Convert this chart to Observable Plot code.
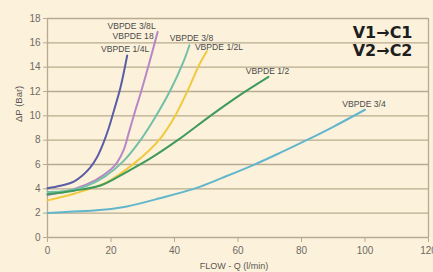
<!DOCTYPE html>
<html>
<head>
<meta charset="utf-8">
<script src="https://cdn.jsdelivr.net/npm/d3@7"></script>
<script src="https://cdn.jsdelivr.net/npm/@observablehq/plot@0.6"></script>
<style>
  html, body { margin: 0; padding: 0; background: #fcf2dc; }
  #chart { width: 433px; height: 272px; overflow: hidden; }
</style>
</head>
<body>
<div id="chart"></div>
<script>
// ---- data ----
const seriesNames = ["VBPDE 1/4L", "VBPDE 18", "VBPDE 3/8", "VBPDE 1/2L", "VBPDE 1/2", "VBPDE 3/4"];
const seriesColors = ["#5a5ea6", "#b888c6", "#72c0a6", "#f1c93e", "#3f9a5c", "#62b6cc"];

const flow14L = [0, 4, 8.3, 11, 13.5, 15.5, 17.5, 19.3, 21, 23, 25.1];
const dp14L   = [4.05, 4.25, 4.6, 5.1, 5.76, 6.55, 7.7, 9.0, 10.5, 12.35, 14.96];

const flow18 = [0, 8, 15, 20, 22, 24, 25.6, 27.5, 29.5, 32, 34.7];
const dp18   = [3.5, 3.95, 4.7, 5.6, 6.2, 7.2, 8.6, 10.3, 12.0, 14.3, 16.9];

const flow38 = [0, 6, 12, 18, 24, 29, 33.5, 38.7, 42.9, 44.7];
const dp38   = [3.75, 3.82, 4.2, 5.0, 6.3, 7.9, 9.7, 12.1, 14.5, 15.8];

const flow12L = [0, 8.3, 18.8, 27.1, 32, 36, 40, 44, 48, 50.2];
const dp12L   = [3.05, 3.6, 4.55, 6.05, 7.15, 8.3, 9.9, 12.0, 14.3, 15.3];

const flow12 = [0, 8.3, 16.7, 25, 32.4, 41, 51.3, 60, 69.6];
const dp12   = [3.55, 3.85, 4.27, 5.4, 6.5, 8.0, 10.0, 11.6, 13.2];

const flow34 = [0, 10, 20, 25, 35, 47, 55, 64.8, 73.2, 81.6, 90, 100];
const dp34   = [2.02, 2.15, 2.35, 2.55, 3.2, 4.08, 4.9, 5.95, 6.95, 8.0, 9.1, 10.5];

const xTicks = [0, 20, 40, 60, 80, 100, 120];
const yTicks = [0, 2, 4, 6, 8, 10, 12, 14, 16, 18];
const extraLabel = "VBPDE 3/8L";
const xTitle = "FLOW - Q (l/min)";
const yTitle = "ΔP (Bar)";
const legendLines = ["V1→C1", "V2→C2"];

// ---- build tables ----
const flows = [flow14L, flow18, flow38, flow12L, flow12, flow34];
const dps = [dp14L, dp18, dp38, dp12L, dp12, dp34];
const rows = [];
seriesNames.forEach((name, i) => {
  flows[i].forEach((f, j) => rows.push({series: name, flow: f, dp: dps[i][j]}));
});
const ends = seriesNames.map((name, i) => ({
  series: name, flow: flows[i][flows[i].length - 1], dp: dps[i][dps[i].length - 1]
}));
// label placement offsets (pixels) relative to each curve's end
const labelStyle = {
  "VBPDE 1/4L": {dx: -2, dy: -6, anchor: "middle"},
  "VBPDE 18":   {dx: -4, dy: 4,  anchor: "end"},
  "VBPDE 3/8":  {dx: 2,  dy: -7, anchor: "middle"},
  "VBPDE 1/2L": {dx: -12, dy: -4, anchor: "start"},
  "VBPDE 1/2":  {dx: -1, dy: -6, anchor: "middle"},
  "VBPDE 3/4":  {dx: -1, dy: -6, anchor: "middle"}
};
const gridColor = "#b7aa8e";
const textColor = "#4a4a4a";

const labelMarks = ends.map(e => {
  const s = labelStyle[e.series];
  return Plot.text([e], {x: "flow", y: "dp", text: "series", dx: s.dx, dy: s.dy,
    textAnchor: s.anchor, fill: textColor, fontSize: 8.6, fontFamily: "Liberation Sans"});
});
const e18 = ends[1];

const chart = Plot.plot({
  width: 433, height: 272,
  marginLeft: 47, marginRight: 5, marginTop: 18, marginBottom: 35,
  style: {background: "transparent", fontFamily: "Liberation Sans", fontSize: "10px", color: "#6e6a62", overflow: "visible"},
  x: {domain: [0, 120], label: null},
  y: {domain: [0, 18], label: null},
  color: {domain: seriesNames, range: seriesColors},
  marks: [
    Plot.ruleY(yTicks, {stroke: gridColor, strokeWidth: 1.3}),
    Plot.ruleX([0, 120], {stroke: gridColor, strokeWidth: 1.3}),
    Plot.axisX(xTicks, {tickSize: 5, tickPadding: 4, stroke: gridColor, fill: "#6e6a62", fontSize: 10}),
    Plot.axisY(yTicks, {tickSize: 4, tickPadding: 3, stroke: gridColor, fill: "#6e6a62", fontSize: 10}),
    Plot.line(rows, {x: "flow", y: "dp", z: "series", stroke: "series", strokeWidth: 2, curve: "catmull-rom"}),
    ...labelMarks,
    Plot.text([extraLabel], {x: () => e18.flow, y: () => e18.dp, dx: -2, dy: -6, textAnchor: "end",
      fill: textColor, fontSize: 8.6, fontFamily: "Liberation Sans"}),
    Plot.text([legendLines[0]], {frameAnchor: "top-right", dx: -16, dy: 14, textAnchor: "end", lineAnchor: "middle",
      fill: "#1e1e1e", fontSize: 16, fontWeight: "bold", fontFamily: "DejaVu Sans"}),
    Plot.text([legendLines[1]], {frameAnchor: "top-right", dx: -16, dy: 32, textAnchor: "end", lineAnchor: "middle",
      fill: "#1e1e1e", fontSize: 16, fontWeight: "bold", fontFamily: "DejaVu Sans"}),
    Plot.text([xTitle], {frameAnchor: "bottom", dx: -4, dy: 29, lineAnchor: "middle",
      fill: "#5a5650", fontSize: 9, fontFamily: "Liberation Sans"}),
    Plot.text([yTitle], {frameAnchor: "left", dx: -29, dy: -6, rotate: -90, lineAnchor: "middle",
      fill: "#5a5650", fontSize: 9.5, fontFamily: "Liberation Sans"})
  ]
});
document.getElementById("chart").appendChild(chart);
</script>
</body>
</html>
